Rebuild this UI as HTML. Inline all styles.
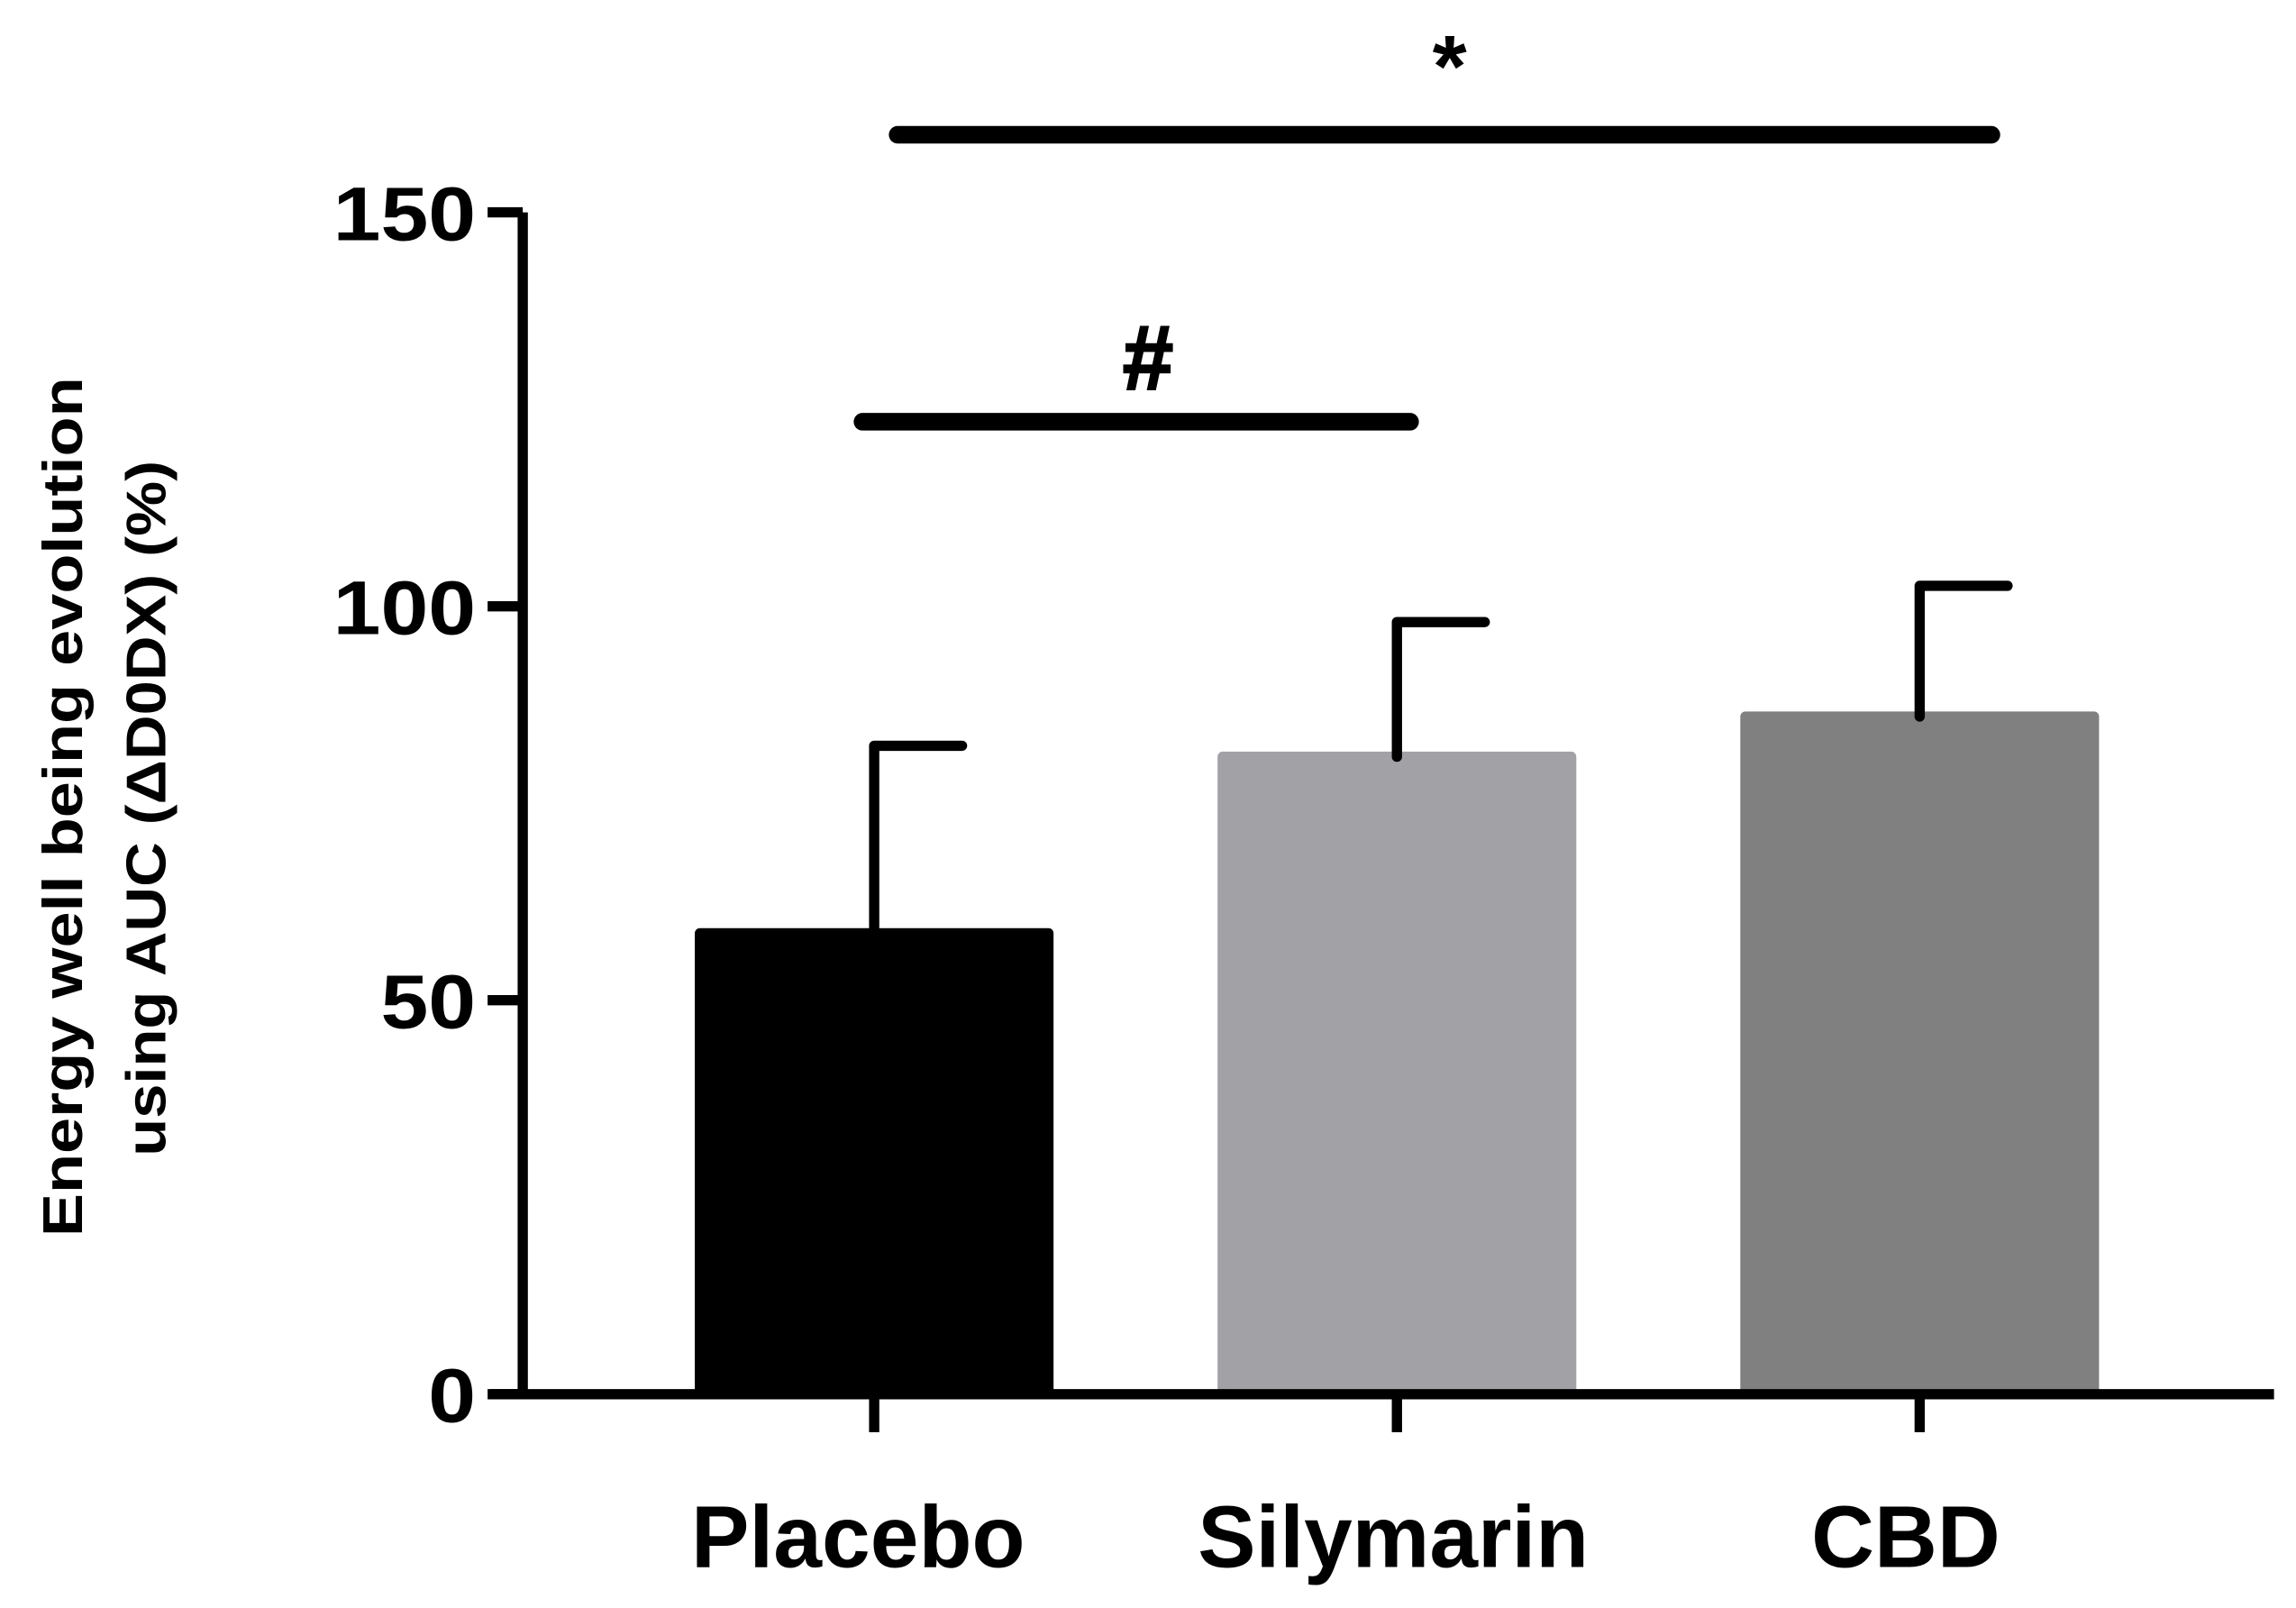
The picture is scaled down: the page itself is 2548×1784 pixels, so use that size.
<!DOCTYPE html>
<html><head><meta charset="utf-8"><style>html,body{margin:0;padding:0;background:#fff}svg{display:block}text{font-family:"Liberation Sans",sans-serif;font-weight:bold;fill:#000}</style></head>
<body>
<svg id="chart" width="2548" height="1784" viewBox="0 0 1568 1098" preserveAspectRatio="none" xmlns="http://www.w3.org/2000/svg">
<g id="g"></g>
</svg>
<script>
const categories = ["Placebo","Silymarin","CBD"];
const means = [58.5, 80.9, 86.0];
const errors = [23.8, 17.1, 16.6];
const colors = ["#000000","#a2a1a6","#808080"];
const yTicks = [0,50,100,150];
const labelWidths = [228, 267, 129];

const NS="http://www.w3.org/2000/svg";
const g=document.getElementById('g');
const y0=952, yTop=145, vMax=150;
const y=v=>y0-(y0-yTop)*v/vMax;
const centers=[597,954,1311];
const labelOffsets=[-125,-136,-74];
const barW=238;
function el(t,a,p){const e=document.createElementNS(NS,t);for(const k in a)e.setAttribute(k,a[k]);(p||g).appendChild(e);return e;}

categories.forEach((c,i)=>{
  const r=el('rect',{x:centers[i]-barW/2,y:y(means[i]),width:barW,height:y0-y(means[i]),fill:colors[i],stroke:colors[i],'stroke-width':7,'stroke-linejoin':'round'});
  
  
  const e=el('path',{d:`M${centers[i]} ${y(means[i])} V${y(means[i]+errors[i])} M${centers[i]} ${y(means[i]+errors[i])} H${centers[i]+60}`,stroke:'#000','stroke-width':7,fill:'none','stroke-linecap':'round'});
  
  
  const t=el('path',{d:`M${centers[i]} ${y0} V978`,stroke:'#000','stroke-width':7});
  
  
  const l=el('text',{x:centers[i]+labelOffsets[i],y:1070,'font-size':60,textLength:labelWidths[i],lengthAdjust:'spacingAndGlyphs'});
  l.textContent=c;
  
  
});
const ax=el('path',{d:`M357 ${yTop} V${y0} M335 ${y0} H1553`,stroke:'#000','stroke-width':7,fill:'none'});


yTicks.forEach(v=>{
  const t=el('path',{d:`M333 ${y(v)} H357`,stroke:'#000','stroke-width':7});
  
  
  const s=String(v);
  const l=el('text',{x:325,y:y(v)+19,'font-size':52,'text-anchor':'end',textLength:s.length*32.5,lengthAdjust:'spacingAndGlyphs'});
  l.textContent=s;
  
  
});
const s1=el('path',{d:'M613 92 H1360 M589 288 H963',stroke:'#000','stroke-width':12,fill:'none','stroke-linecap':'round'});


const a=el('text',{x:990,y:66,'font-size':60,'text-anchor':'middle'});a.textContent='*';


const h=el('text',{x:784,y:266,'font-size':62,'text-anchor':'middle',stroke:'#000','stroke-width':1.5});h.textContent='#';


const t1=el('text',{x:0,y:0,transform:'translate(56,551) rotate(-90)','font-size':38,'text-anchor':'middle',textLength:587,lengthAdjust:'spacingAndGlyphs'});
t1.textContent='Energy well being evolution';


const t2=el('text',{x:0,y:0,transform:'translate(113,552) rotate(-90)','font-size':38,'text-anchor':'middle',textLength:475,lengthAdjust:'spacingAndGlyphs'});
t2.textContent='using AUC (ΔD0DX) (%)';


</script>
</body></html>
